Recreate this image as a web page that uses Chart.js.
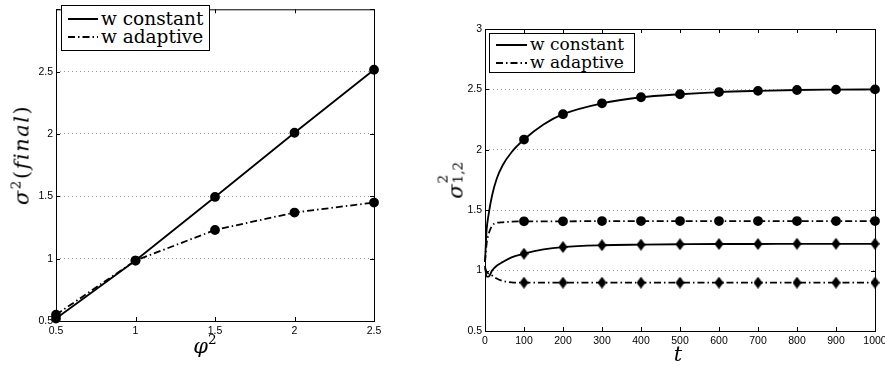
<!DOCTYPE html>
<html>
<head>
<meta charset="utf-8">
<script src="https://cdn.jsdelivr.net/npm/chart.js@4.4.0/dist/chart.umd.min.js"></script>
<style>
  html, body { margin:0; padding:0; background:#fff; overflow:hidden; width:885px; height:367px; }
  .wrap { position:absolute; top:0; height:367px; }
  #w1 { left:0; width:440px; }
  #w2 { left:440px; width:460px; }
  .lab { position:absolute; font-family:'DejaVu Serif', serif; color:#000; white-space:nowrap; line-height:1; transform:translate(-50%,-50%); }
  .rot { transform:translate(-50%,-50%) rotate(-90deg); }
  .lab sup { font-size:65%; font-style:normal; vertical-align:0.6em; line-height:0; }
  .ss { position:relative; display:inline-block; width:1.1em; height:1em; font-style:normal; }
  .ss span { position:absolute; left:1px; font-size:65%; line-height:1; }
  .ss .sp { top:-0.35em; }
  .ss .sb { top:0.75em; }
  .leg { position:absolute; border:1px solid #000; background:#fff; font-family:'DejaVu Serif', serif; color:#000; }
  .row { position:absolute; left:0; display:flex; align-items:center; white-space:nowrap; line-height:1; }
  .row svg { display:block; margin-right:3px; }
</style>
</head>
<body>
<div class="wrap" id="w1"><canvas id="c1"></canvas></div>
<div class="wrap" id="w2"><canvas id="c2"></canvas></div>

<div class="lab rot" style="left:22px; top:155px; font-size:21px; letter-spacing:1.5px;"><i>σ</i><sup>2</sup>(<i>final</i>)</div>
<div class="lab" style="left:205px; top:346px; font-size:21px;"><i>φ</i><sup>2</sup></div>
<div class="lab rot" style="left:454px; top:180px; font-size:21px;"><i>σ</i><span class="ss"><span class="sp">2</span><span class="sb">1,2</span></span></div>
<div class="lab" style="left:678px; top:354px; font-size:21px;"><i>t</i></div>

<div class="leg" style="left:61px; top:5px; width:147px; height:44px; font-size:18.5px;">
  <div class="row" style="top:4px; left:6px;"><svg width="30" height="4"><line x1="0" y1="2" x2="30" y2="2" stroke="#000" stroke-width="2"/></svg>w constant</div>
  <div class="row" style="top:22px; left:6px;"><svg width="30" height="4"><line x1="0" y1="2" x2="30" y2="2" stroke="#000" stroke-width="2" stroke-dasharray="7,3,1.5,3"/></svg>w adaptive</div>
</div>
<div class="leg" style="left:489px; top:33px; width:144px; height:38px; font-size:17px;">
  <div class="row" style="top:2px; left:6px;"><svg width="31" height="4"><line x1="0" y1="2" x2="31" y2="2" stroke="#000" stroke-width="2"/></svg>w constant</div>
  <div class="row" style="top:20px; left:6px;"><svg width="31" height="4"><line x1="0" y1="2" x2="31" y2="2" stroke="#000" stroke-width="2" stroke-dasharray="7,3,1.5,3"/></svg>w adaptive</div>
</div>

<script>
// left panel: final variance vs phi^2
const phiVals = [0.5, 1, 1.5, 2, 2.5];
const finalConst = [0.52, 0.985, 1.495, 2.01, 2.515];
const finalAdapt = [0.55, 0.985, 1.23, 1.37, 1.45];

// right panel: variance over time
const tVals = [0, 4, 9, 18, 30, 45, 68, 100, 150, 200, 300, 400, 500, 600, 700, 800, 900, 1000];
const constCirc = [1.07, 1.33, 1.46, 1.62, 1.76, 1.87, 1.98, 2.085, 2.21, 2.295, 2.385, 2.435, 2.46, 2.478, 2.488, 2.495, 2.498, 2.5];
const adaptCirc = [1.07, 1.22, 1.3, 1.37, 1.395, 1.4, 1.405, 1.408, 1.408, 1.408, 1.41, 1.41, 1.41, 1.41, 1.41, 1.41, 1.41, 1.41];
const constDiam = [1.04, 0.95, 0.95, 1.0, 1.04, 1.07, 1.11, 1.14, 1.175, 1.195, 1.21, 1.215, 1.218, 1.22, 1.22, 1.222, 1.222, 1.222];
const adaptDiam = [1.02, 0.99, 0.975, 0.96, 0.935, 0.915, 0.903, 0.9, 0.9, 0.9, 0.9, 0.9, 0.9, 0.9, 0.9, 0.9, 0.9, 0.9];

const dashDot = [7, 3, 1.5, 3];

Chart.defaults.font.family = "'Liberation Sans', Arial, sans-serif";
Chart.defaults.font.size = 10.5;
Chart.defaults.color = '#000';

// tall diamond marker
const diamond = document.createElement('canvas');
diamond.width = 9; diamond.height = 12;
(() => {
  const g = diamond.getContext('2d');
  g.fillStyle = '#000';
  g.beginPath();
  g.moveTo(4.5, 0); g.lineTo(9, 6); g.lineTo(4.5, 12); g.lineTo(0, 6);
  g.closePath(); g.fill();
})();

// matlab style box with inner ticks
const boxPlugin = {
  id: 'box',
  beforeDatasetsDraw(chart) {
    const { ctx, chartArea: a, scales: { x, y } } = chart;
    ctx.save();
    ctx.strokeStyle = '#000';
    ctx.lineWidth = 1;
    ctx.strokeRect(a.left + 0.5, a.top + 0.5, a.right - a.left, a.bottom - a.top);
    ctx.beginPath();
    x.ticks.forEach(t => {
      const px = Math.round(x.getPixelForValue(t.value)) + 0.5;
      ctx.moveTo(px, a.bottom); ctx.lineTo(px, a.bottom - 4);
      ctx.moveTo(px, a.top); ctx.lineTo(px, a.top + 4);
    });
    y.ticks.forEach(t => {
      const py = Math.round(y.getPixelForValue(t.value)) + 0.5;
      ctx.moveTo(a.left, py); ctx.lineTo(a.left + 4, py);
      ctx.moveTo(a.right, py); ctx.lineTo(a.right - 4, py);
    });
    ctx.stroke();
    ctx.restore();
  }
};

function gridColor(c) {
  const v = c.tick.value;
  return (v > 0.5 && v < 3) ? '#9a9a9a' : 'rgba(0,0,0,0)';
}

function makeScales(xMin, xMax, xStep, yWidth, xHeight, hideTop) {
  return {
    x: {
      type: 'linear', min: xMin, max: xMax,
      ticks: { stepSize: xStep, padding: 4, maxRotation: 0, callback: v => String(v) },
      grid: { display: false, drawTicks: false },
      border: { display: false },
      afterFit: s => { s.height = xHeight; }
    },
    y: {
      min: 0.5, max: 3,
      ticks: {
        stepSize: 0.5, padding: 3,
        callback: v => (hideTop && v === 3) ? '' : String(v)
      },
      grid: { color: gridColor, lineWidth: 1, drawTicks: false },
      border: { display: false, dash: [1, 3] },
      afterFit: s => { s.width = yWidth; }
    }
  };
}

const common = {
  responsive: true,
  maintainAspectRatio: false,
  animation: false,
  plugins: { legend: { display: false }, tooltip: { enabled: false } },
  elements: { point: { backgroundColor: '#000', borderColor: '#000', borderWidth: 0 } }
};

const toXY = (xs, ys) => xs.map((v, i) => ({ x: v, y: ys[i] }));

new Chart(document.getElementById('c1'), {
  type: 'line',
  data: {
    datasets: [
      { label: 'w constant', data: toXY(phiVals, finalConst), borderColor: '#000', borderWidth: 1.8,
        pointRadius: 4, pointStyle: 'circle', tension: 0, clip: false },
      { label: 'w adaptive', data: toXY(phiVals, finalAdapt), borderColor: '#000', borderWidth: 1.8, borderDash: dashDot,
        pointRadius: 4, pointStyle: 'circle', tension: 0, clip: false }
    ]
  },
  options: Object.assign({}, common, {
    layout: { padding: { left: 0, top: 3, right: 66, bottom: 0 } },
    scales: makeScales(0.5, 2.5, 0.5, 56, 46, true)
  }),
  plugins: [boxPlugin]
});

const isMark = c => {
  const t = tVals[c.dataIndex];
  return t >= 100 && t % 100 === 0;
};

function timeSet(label, vals, dashed, style) {
  return {
    label, data: toXY(tVals, vals), borderColor: '#000', borderWidth: 1.8,
    borderDash: dashed ? dashDot : [],
    cubicInterpolationMode: 'monotone', clip: false,
    pointStyle: style,
    pointRadius: c => isMark(c) ? 4 : 0
  };
}

new Chart(document.getElementById('c2'), {
  type: 'line',
  data: {
    datasets: [
      timeSet('w constant', constCirc, false, 'circle'),
      timeSet('w adaptive', adaptCirc, true, 'circle'),
      timeSet('w constant', constDiam, false, diamond),
      timeSet('w adaptive', adaptDiam, true, diamond)
    ]
  },
  options: Object.assign({}, common, {
    layout: { padding: { left: 0, top: 29, right: 25, bottom: 0 } },
    scales: makeScales(0, 1000, 100, 45, 36, false)
  }),
  plugins: [boxPlugin]
});
</script>
</body>
</html>
